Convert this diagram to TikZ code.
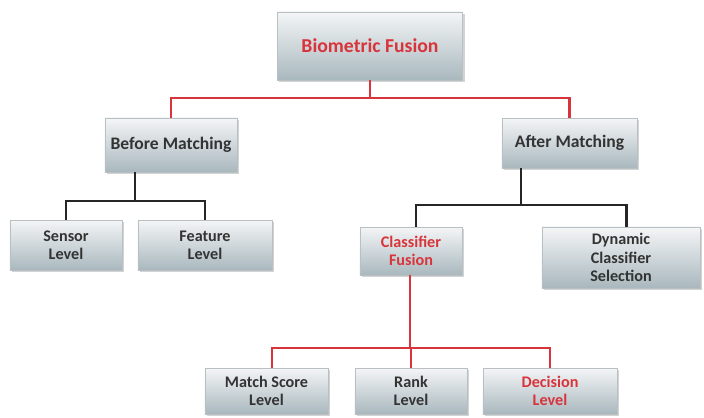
\documentclass[tikz,border=0pt]{standalone}
\usepackage{fontspec}
\setmainfont{Carlito}
\usepackage{xcolor}
\usetikzlibrary{positioning}
\usetikzlibrary{shadows}
\definecolor{fusionred}{HTML}{D8343B}
\definecolor{boxtop}{HTML}{F4F5F6}
\definecolor{boxbottom}{HTML}{A9B8BE}
\definecolor{boxedge}{HTML}{B9C0C4}
\newcommand{\levelbox}[5]{ % Takes name, x coord, y coord, width, height
    \node [box, minimum width=#4, minimum height=#5] (#1) at (#2, #3)
}

\begin{document}
\begin{tikzpicture}[x=0.025cm, y=-0.025cm,
    box/.style={draw=boxedge, line width=0.4pt, top color=boxtop, bottom color=boxbottom,
        drop shadow={shadow xshift=1.5pt, shadow yshift=-1.5pt, opacity=0.35},
        align=center, inner sep=0pt, font=\bfseries\fontsize{11.5}{13}\selectfont, text=black!80},
    redline/.style={draw=fusionred, line width=1.8pt},
    blackline/.style={draw=black!85, line width=1.8pt}]
                \useasboundingbox (0,0) rectangle (704,417);

                % Boxes
                \levelbox{bio}{370}{46}{4.63cm}{1.7cm} [text=fusionred, font=\bfseries\fontsize{14}{17}\selectfont] {Biometric Fusion};
                \levelbox{before}{171}{145}{3.3cm}{1.35cm} [font=\bfseries\fontsize{12.5}{15}\selectfont] {Before Matching};
                \levelbox{after}{569.5}{143}{3.38cm}{1.25cm} [font=\bfseries\fontsize{12.5}{15}\selectfont] {After Matching};
                \levelbox{sensor}{66}{245}{2.8cm}{1.25cm} {Sensor\\Level};
                \levelbox{feature}{205}{245}{3.35cm}{1.25cm} {Feature\\Level};
                \levelbox{clf}{411}{251}{2.55cm}{1.2cm} [text=fusionred] {Classifier\\Fusion};
                \levelbox{dyn}{621}{257.5}{3.95cm}{1.53cm} {Dynamic\\Classifier\\Selection};
                \levelbox{match}{266.5}{391}{3.08cm}{1.15cm} {Match Score\\Level};
                \levelbox{rank}{411}{391}{2.8cm}{1.15cm} {Rank\\Level};
                \levelbox{decision}{550}{391}{3.35cm}{1.15cm} [text=fusionred] {Decision\\Level};

                % Junctions
                \coordinate (topjoin) at (370,98);
                \coordinate (beforejoin) at (135,201);
                \coordinate (afterjoin) at (521,205);
                \coordinate (clfjoin) at (410,348);

                % Biometric Fusion to Before / After Matching
                \draw[redline] (bio.south) -- (topjoin) -| (before.north);
                \draw[redline] (topjoin) -| (after.north);

                % Before Matching
                \draw[blackline] (before.south -| beforejoin) -- (beforejoin) -| (sensor.north);
                \draw[blackline] (beforejoin) -| (feature.north);

                % After Matching
                \draw[blackline] (after.south -| afterjoin) -- (afterjoin) -| ([xshift=3.5pt]clf.north);
                \draw[blackline] (afterjoin) -| ([xshift=4pt]dyn.north);

                % Classifier Fusion
                \draw[redline] (clf.south -| clfjoin) -- (clfjoin) -| ([xshift=4pt]match.north);
                \draw[redline] (clfjoin) -| (rank.north);
                \draw[redline] (clfjoin) -| (decision.north);
            \end{tikzpicture}
\end{document}
